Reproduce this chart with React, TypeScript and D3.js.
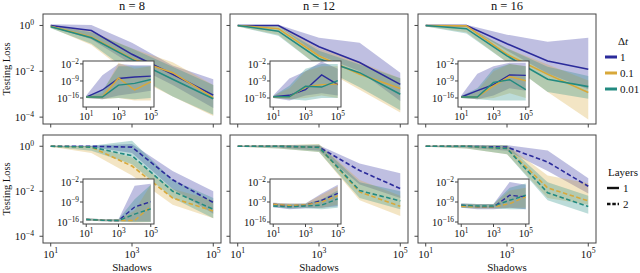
import * as d3 from "d3";

const shadows = [1e1, 1e2, 1e3, 1e4, 1e5];
const dtLabels = ["1", "0.1", "0.01"];
const dtColors = ["#2b2b9b", "#d8a83a", "#228a80"];
const nTitles = ["n = 8", "n = 12", "n = 16"];
const layerLabels = ["1", "2"];
const mainYTicks = [0, -2, -4];
const mainXTicks = [1, 3, 5];
const insetYTicks = [-2, -9, -16];
const insetXTicks = [1, 3, 5];

// all values are log10(testing loss); rows are dt = 1, 0.1, 0.01
// layers = 1 (top row)
const n8L1Mean = [[0, -0.22, -1.26, -2.13, -3.04], [-0.04, -0.5, -1.45, -2.06, -3.15], [-0.06, -0.54, -1.48, -2.35, -3.2]];
const n8L1Lo = [[-0.05, -0.6, -1.7, -2.6, -3.6], [-0.1, -0.85, -2.2, -3.1, -3.95], [-0.12, -0.8, -2.1, -3.1, -3.9]];
const n8L1Hi = [[0.05, 0.02, -0.75, -1.75, -2.35], [0.02, -0.25, -1.0, -1.6, -2.6], [0.0, -0.3, -1.0, -1.8, -2.6]];
const n8L1InMean = [[-15.6, -12.7, -8.0, -7.4, -7.0], [-15.6, -15.6, -7.8, -12.7, -9.4], [-15.6, -15.6, -10.7, -10.0, -8.4]];
const n8L1InLo = [[-16, -16.5, -15, -14, -13], [-16, -16.5, -16, -17, -17], [-16, -16.3, -16, -16.5, -16]];
const n8L1InHi = [[-15, -6.7, -2, -2.5, -2.5], [-15.2, -14, -1.5, -4, -3], [-15.2, -13, -3, -3, -3]];

const n12L1Mean = [[0, 0, -0.93, -1.62, -2.57], [0, -0.14, -1.33, -2.13, -2.75], [0, -0.25, -1.45, -2.06, -3.0]];
const n12L1Lo = [[-0.03, -0.05, -1.3, -2.0, -3.3], [-0.05, -0.4, -1.8, -2.8, -3.8], [-0.05, -0.45, -1.8, -2.7, -3.7]];
const n12L1Hi = [[0.03, 0.03, -0.54, -0.75, -2.06], [0.02, 0.0, -1.0, -1.6, -2.3], [0.02, -0.05, -1.1, -1.7, -2.3]];
const n12L1InMean = [[-15.5, -14.9, -12.6, -6.5, -10.5], [-15.5, -15.5, -11.5, -10.5, -10.3], [-15.5, -15.5, -11.2, -11.5, -8.9]];
const n12L1InLo = [[-16, -17, -15, -14, -15], [-16, -16.5, -16, -15, -16], [-16, -16.5, -17, -16, -16]];
const n12L1InHi = [[-15, -8, -5, -1, -4], [-15.2, -12, -5, -3, -3], [-15.2, -11, -4, -2, -2]];

const n16L1Mean = [[0, 0, -0.8, -1.55, -1.91], [0, -0.02, -1.26, -2.13, -2.93], [0, -0.14, -1.33, -2.35, -2.67]];
const n16L1Lo = [[-0.03, -0.05, -1.1, -2.1, -2.78], [-0.05, -0.3, -1.6, -2.9, -4.1], [-0.05, -0.35, -1.6, -2.9, -3.2]];
const n16L1Hi = [[0.03, 0.03, -0.4, -0.71, -0.54], [0.02, 0.0, -1.0, -1.7, -2.4], [0.02, -0.02, -1.0, -1.8, -2.2]];
const n16L1InMean = [[-15.6, -13.0, -10.5, -6.5, -6.7], [-15.6, -15.6, -11.0, -7.2, -8.9], [-15.6, -15.6, -9.6, -8.5, -12.6]];
const n16L1InLo = [[-16, -16.5, -15, -12, -13], [-16, -16.5, -16, -14, -16], [-16, -16.5, -17, -17, -17]];
const n16L1InHi = [[-15, -6, -3, -1.5, -1.5], [-15.2, -13, -5, -2, -3], [-15.2, -12, -4, -2, -3]];

// layers = 2 (bottom row)
const n8L2Mean = [[0, 0, -0.04, -1.49, -2.5], [0, -0.04, -0.88, -2.3, -2.88], [0, -0.04, -0.42, -2.0, -2.8]];
const n8L2Lo = [[-0.02, -0.03, -0.3, -1.9, -3.0], [-0.02, -0.3, -1.3, -2.6, -3.2], [-0.02, -0.2, -0.8, -2.3, -3.2]];
const n8L2Hi = [[0.02, 0.02, 0.1, -1.1, -2.0], [0.02, 0.0, -0.5, -1.9, -2.4], [0.02, 0.02, 0.25, -1.5, -2.3]];
const n8L2InMean = [[-15.1, -15.4, -15.5, -10.75, -8.9], [-15.1, -15.4, -15.5, -15.5, -10.5], [-15.1, -15.4, -15.5, -13.25, -11.4]];
const n8L2InLo = [[-15.5, -15.7, -15.8, -15.8, -15.8], [-15.5, -15.7, -15.8, -16.2, -16], [-15.5, -15.7, -15.8, -16, -16]];
const n8L2InHi = [[-14.7, -15.0, -15.0, -3.3, -2.6], [-14.7, -15.0, -15.0, -12, -3], [-14.7, -15.0, -15.0, -8, -3]];

const n12L2Mean = [[0, 0, -0.04, -1.08, -1.88], [0, 0, -0.05, -2.03, -2.67], [0, 0, -0.05, -1.97, -2.43]];
const n12L2Lo = [[-0.02, -0.05, -0.2, -1.7, -2.3], [-0.02, -0.1, -0.25, -2.4, -3.1], [-0.02, -0.1, -0.25, -2.3, -2.8]];
const n12L2Hi = [[0.02, 0.05, 0.05, -0.77, -1.2], [0.02, 0.05, 0.1, -1.5, -2.2], [0.02, 0.05, 0.08, -1.6, -2.0]];
const n12L2InMean = [[-9.8, -10.4, -10.1, -8.4, -6.0], [-9.8, -10.2, -10.0, -9.0, -6.8], [-10.4, -10.7, -10.4, -10.1, -7.9]];
const n12L2InLo = [[-10.8, -11.5, -11.2, -11.0, -10.5], [-10.6, -11, -10.8, -11, -10], [-10.8, -11.3, -11.2, -11.5, -11]];
const n12L2InHi = [[-9.3, -9.5, -9.5, -6.0, -3.0], [-9.3, -9.5, -9.5, -6.5, -3.5], [-9.6, -9.8, -9.6, -8, -5]];

const n16L2Mean = [[0, 0, -0.04, -0.7, -1.78], [0, 0, -0.1, -1.85, -2.43], [0, 0, -0.1, -2.07, -2.68]];
const n16L2Lo = [[-0.02, -0.05, -0.2, -1.1, -2.1], [-0.02, -0.1, -0.35, -2.3, -2.6], [-0.02, -0.1, -0.35, -2.4, -3.0]];
const n16L2Hi = [[0.02, 0.05, 0.05, -0.19, -1.42], [0.02, 0.05, 0.05, -1.3, -1.64], [0.02, 0.05, 0.05, -1.6, -2.2]];
const n16L2InMean = [[-10.1, -10.7, -10.7, -6.65, -7.2], [-10.5, -10.7, -10.7, -9.6, -7.2], [-10.1, -10.4, -10.4, -8.4, -6.65]];
const n16L2InLo = [[-11, -11.5, -11.5, -11, -11.5], [-11, -11.3, -11.3, -11, -11], [-11, -11.2, -11.2, -11.5, -11.5]];
const n16L2InHi = [[-9.5, -9.7, -9.7, -2, -3], [-9.6, -9.8, -9.8, -5, -4], [-9.5, -9.7, -9.7, -4, -2.5]];

const panels = [
  { row: 0, col: 0, mean: n8L1Mean, lo: n8L1Lo, hi: n8L1Hi, inMean: n8L1InMean, inLo: n8L1InLo, inHi: n8L1InHi },
  { row: 0, col: 1, mean: n12L1Mean, lo: n12L1Lo, hi: n12L1Hi, inMean: n12L1InMean, inLo: n12L1InLo, inHi: n12L1InHi },
  { row: 0, col: 2, mean: n16L1Mean, lo: n16L1Lo, hi: n16L1Hi, inMean: n16L1InMean, inLo: n16L1InLo, inHi: n16L1InHi },
  { row: 1, col: 0, mean: n8L2Mean, lo: n8L2Lo, hi: n8L2Hi, inMean: n8L2InMean, inLo: n8L2InLo, inHi: n8L2InHi },
  { row: 1, col: 1, mean: n12L2Mean, lo: n12L2Lo, hi: n12L2Hi, inMean: n12L2InMean, inLo: n12L2InLo, inHi: n12L2InHi },
  { row: 1, col: 2, mean: n16L2Mean, lo: n16L2Lo, hi: n16L2Hi, inMean: n16L2InMean, inLo: n16L2InLo, inHi: n16L2InHi },
];

const font = '"Liberation Serif", "DejaVu Serif", serif';
const rowTop = [14, 135];
const rowH = [110, 108];
const colLeft = [43, 230, 418];
const W = 178;
const insetBox = [
  { dx: 40, dy: 47, w: 71, h: 46, yDomain: [-19.7, -0.8] },
  { dx: 40, dy: 44, w: 71, h: 45, yDomain: [-16.7, -0.95] },
];
const frame = "#444";
const dash = "4.5,2.5";

function Pow({ x, y, exp, anchor, size }: { x: number; y: number; exp: number; anchor: string; size: number }) {
  const e = exp < 0 ? "\u2212" + Math.abs(exp) : String(exp);
  return (
    <text x={x} y={y} textAnchor={anchor} fontSize={size} fill="#111">
      10<tspan dy={-size * 0.42} fontSize={size * 0.7}>{e}</tspan>
    </text>
  );
}

function Panel({ p, idx }: { p: (typeof panels)[number]; idx: number }) {
  const h = rowH[p.row];
  const x = d3.scaleLog().domain([10 ** 0.81, 10 ** 5.19]).range([0, W]);
  const y = d3.scaleLog().domain([10 ** -4.3, 10 ** 0.5]).range([h, 0]);
  const dashed = p.row === 1;
  const ib = insetBox[p.row];
  const ix = d3.scaleLog().domain([10 ** 0.8, 10 ** 5.2]).range([0, ib.w]);
  const iy = d3.scaleLog().domain([10 ** ib.yDomain[0], 10 ** ib.yDomain[1]]).range([ib.h, 0]);
  const idxs = d3.range(shadows.length);

  const bands = (xs: any, ys: any, lo: number[][], hi: number[][]) =>
    dtColors.map((c, k) => (
      <path
        key={"b" + k}
        d={
          d3
            .area<number>()
            .x((i) => xs(shadows[i]))
            .y0((i) => ys(10 ** lo[k][i]))
            .y1((i) => ys(10 ** hi[k][i]))(idxs) || ""
        }
        fill={c}
        fillOpacity={0.3}
        stroke="none"
      />
    ));
  const lines = (xs: any, ys: any, mean: number[][], sw: number) =>
    dtColors.map((c, k) => (
      <path
        key={"l" + k}
        d={
          d3
            .line<number>()
            .x((i) => xs(shadows[i]))
            .y((i) => ys(10 ** mean[k][i]))(idxs) || ""
        }
        fill="none"
        stroke={c}
        strokeWidth={sw}
        strokeDasharray={dashed ? dash : undefined}
      />
    ));

  return (
    <g transform={`translate(${colLeft[p.col]},${rowTop[p.row]})`}>
      <defs>
        <clipPath id={"clipM" + idx}>
          <rect width={W} height={h} />
        </clipPath>
        <clipPath id={"clipI" + idx}>
          <rect width={ib.w} height={ib.h} />
        </clipPath>
      </defs>
      <g clipPath={`url(#clipM${idx})`}>
        {bands(x, y, p.lo, p.hi)}
        {lines(x, y, p.mean, 1.6)}
      </g>
      <rect width={W} height={h} fill="none" stroke={frame} strokeWidth={1} />
      {mainXTicks.map((t) => (
        <line key={"xt" + t} x1={x(10 ** t)} x2={x(10 ** t)} y1={h} y2={h + 3.5} stroke={frame} />
      ))}
      {mainYTicks.map((t) => (
        <line key={"yt" + t} x1={0} x2={-3.5} y1={y(10 ** t)} y2={y(10 ** t)} stroke={frame} />
      ))}
      {p.col === 0 &&
        mainYTicks.map((t) => <Pow key={"yl" + t} x={-9} y={y(10 ** t) + 4} exp={t} anchor="end" size={11} />)}
      {p.row === 1 &&
        mainXTicks.map((t) => <Pow key={"xl" + t} x={x(10 ** t)} y={h + 15} exp={t} anchor="middle" size={11} />)}

      <g transform={`translate(${ib.dx},${ib.dy})`}>
        <rect width={ib.w} height={ib.h} fill="#fff" />
        <g clipPath={`url(#clipI${idx})`}>
          {bands(ix, iy, p.inLo, p.inHi)}
          {lines(ix, iy, p.inMean, 1.4)}
        </g>
        <rect width={ib.w} height={ib.h} fill="none" stroke={frame} strokeWidth={1} />
        {insetXTicks.map((t) => (
          <line key={"ixt" + t} x1={ix(10 ** t)} x2={ix(10 ** t)} y1={ib.h} y2={ib.h + 3} stroke={frame} />
        ))}
        {insetYTicks.map((t) => (
          <line key={"iyt" + t} x1={0} x2={-3} y1={iy(10 ** t)} y2={iy(10 ** t)} stroke={frame} />
        ))}
        {insetYTicks.map((t) => (
          <Pow key={"iyl" + t} x={-4} y={iy(10 ** t) + 4} exp={t} anchor="end" size={10.5} />
        ))}
        {insetXTicks.map((t) => (
          <Pow key={"ixl" + t} x={ix(10 ** t)} y={ib.h + 13} exp={t} anchor="middle" size={10.5} />
        ))}
      </g>

      {p.row === 0 && (
        <text x={W / 2} y={-4} textAnchor="middle" fontSize={12.5} fill="#111">
          {nTitles[p.col]}
        </text>
      )}
      {p.row === 1 && (
        <text x={W / 2} y={h + 28} textAnchor="middle" fontSize={11} fill="#111">
          Shadows
        </text>
      )}
    </g>
  );
}

export default function App() {
  return (
    <svg
      width={640}
      height={273}
      style={{ position: "absolute", left: 0, top: 0, background: "#fff", fontFamily: font }}
    >
      {panels.map((p, i) => (
        <Panel key={i} p={p} idx={i} />
      ))}
      {rowTop.map((t, r) => (
        <text
          key={"yl" + r}
          transform={`translate(9.5,${t + rowH[r] / 2}) rotate(-90)`}
          textAnchor="middle"
          fontSize={10.5}
          fill="#111"
        >
          Testing Loss
        </text>
      ))}

      <text x={623} y={45} textAnchor="middle" fontSize={11} fill="#111">
        Δ<tspan fontStyle="italic">t</tspan>
      </text>
      {dtLabels.map((d, k) => (
        <g key={"dt" + k} transform={`translate(605,${57 + k * 16})`}>
          <line x1={0} x2={12} y1={0} y2={0} stroke={dtColors[k]} strokeWidth={3} />
          <text x={15} y={4} fontSize={11} fill="#111">
            {d}
          </text>
        </g>
      ))}

      <text x={608} y={176} fontSize={11} fill="#111">
        Layers
      </text>
      {layerLabels.map((d, k) => (
        <g key={"ly" + k} transform={`translate(607,${188 + k * 16})`}>
          <line
            x1={0}
            x2={12}
            y1={0}
            y2={0}
            stroke="#111"
            strokeWidth={2.4}
            strokeDasharray={k === 1 ? "3.5,1.8" : undefined}
          />
          <text x={16} y={4} fontSize={11} fill="#111">
            {d}
          </text>
        </g>
      ))}
    </svg>
  );
}
